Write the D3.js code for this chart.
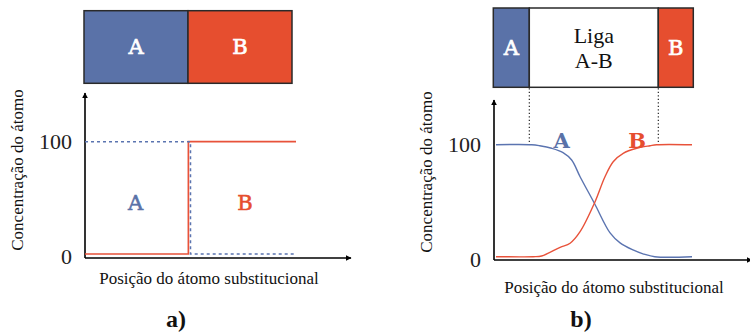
<!DOCTYPE html>
<html>
<head>
<meta charset="utf-8">
<script src="https://cdn.jsdelivr.net/npm/d3@7"></script>
<style>
  html, body { margin: 0; padding: 0; background: #fff; }
  svg { display: block; }
  .serif { font-family: "Liberation Serif", Tinos, "Times New Roman", Times, "DejaVu Serif", "Noto Serif", serif; }
  .slab { font-family: "DejaVu Serif", "Liberation Serif", "Noto Serif", serif; }
</style>
</head>
<body>
<svg id="chart" width="750" height="334"></svg>
<script>
// ---------------- DATA ----------------
// Panel a) – abrupt interface
const boxA_names = ["A", "B"];
const boxA_starts = [0, 50];
const boxA_ends = [50, 100];
const posA_red = [0, 49, 49, 100];
const concA_red = [0, 0, 100, 100];
const posA_blue = [0, 50, 50, 100];
const concA_blue = [100, 100, 0, 0];

// Panel b) – diffusion couple
const boxB_names = ["A", "Liga|A-B", "B"];
const boxB_starts = [0, 18, 82.5];
const boxB_ends = [18, 82.5, 100];
const posB_blue = [0, 18.2, 22.3, 28.4, 34.2, 38.6, 42.9, 50.2, 58.2, 63.3, 69.9, 75, 81, 100];
const concB_blue = [100, 100, 99.1, 96.8, 92.9, 86.3, 71.4, 47.7, 21.2, 12.3, 6, 2.5, 0, 0];
const posB_red = [0, 18.9, 23.3, 32.7, 37.8, 42.9, 50.2, 55.6, 59.8, 64.9, 71.8, 78.6, 82, 100];
const concB_red = [0, 0, 0.6, 8.4, 12, 22.3, 47.7, 71.4, 84.8, 92.3, 96.8, 99.1, 100, 100];

const yTicks = [0, 100];
const yLabel = "Concentração do átomo";
const xLabel = "Posição do átomo substitucional";
const captions = ["a)", "b)"];

// ---------------- STYLE ----------------
const BLUE = "#5a72a8";
const RED = "#e64e2f";
const LBLUE = "#5b74b0";
const LRED = "#e8523a";

const svg = d3.select("#chart");

const defs = svg.append("defs");
defs.append("marker")
  .attr("id", "arrow")
  .attr("viewBox", "0 0 10 10")
  .attr("refX", 9).attr("refY", 5)
  .attr("markerWidth", 6).attr("markerHeight", 6)
  .attr("markerUnits", "userSpaceOnUse")
  .attr("orient", "auto")
  .append("path").attr("d", "M0,0 L10,5 L0,10 Z").attr("fill", "#000");

function zip(xs, ys) { return xs.map((x, i) => ({ x, y: ys[i] })); }

function panel(cfg) {
  const g = svg.append("g");
  const x = d3.scaleLinear().domain([0, 100]).range(cfg.xRange);
  const y = d3.scaleLinear().domain([0, 100]).range(cfg.yRange);
  const bx = d3.scaleLinear().domain([0, 100]).range(cfg.boxRange);

  const secs = cfg.names.map((n, i) => ({ n, s: cfg.starts[i], e: cfg.ends[i], fill: cfg.fills[i], txt: cfg.txt[i] }));
  g.selectAll("rect.sec").data(secs).join("rect")
    .attr("class", "sec")
    .attr("x", d => bx(d.s)).attr("y", cfg.boxY[0])
    .attr("width", d => bx(d.e) - bx(d.s))
    .attr("height", cfg.boxY[1] - cfg.boxY[0])
    .attr("fill", d => d.fill)
    .attr("stroke", "#2a2a2a").attr("stroke-width", 1.5);
  secs.forEach(d => {
    const lines = d.n.split("|");
    const cx = (bx(d.s) + bx(d.e)) / 2;
    const cy = (cfg.boxY[0] + cfg.boxY[1]) / 2;
    const lh = 25;
    const multi = lines.length > 1;
    lines.forEach((t, k) => {
      g.append("text")
        .attr("class", multi ? "serif" : "slab")
        .attr("x", cx)
        .attr("y", cy + (k - (lines.length - 1) / 2) * lh)
        .attr("dy", "0.35em")
        .attr("text-anchor", "middle")
        .style("font-size", multi ? "22px" : "21px")
        .attr("fill", d.txt)
        .attr("stroke", multi ? null : d.txt)
        .attr("stroke-width", multi ? null : 0.7)
        .text(t);
    });
  });

  if (cfg.guides) {
    cfg.guides.forEach(v => {
      g.append("line")
        .attr("x1", bx(v)).attr("x2", bx(v))
        .attr("y1", cfg.boxY[1] + 1).attr("y2", y(101))
        .attr("stroke", "#111").attr("stroke-width", 1.1)
        .attr("stroke-dasharray", "1.2,2.3");
    });
  }

  const x0 = cfg.axisX, yb = cfg.axisY;
  g.append("line").attr("x1", x0).attr("y1", yb).attr("x2", x0).attr("y2", cfg.yTop)
    .attr("stroke", "#000").attr("stroke-width", 1.6).attr("marker-end", "url(#arrow)");
  g.append("line").attr("x1", x0).attr("y1", yb).attr("x2", cfg.xEnd).attr("y2", yb)
    .attr("stroke", "#000").attr("stroke-width", 1.6).attr("marker-end", "url(#arrow)");

  const ax = d3.axisLeft(y).tickValues(yTicks).tickSize(0).tickPadding(0).tickFormat(d3.format("d"));
  const axg = g.append("g").attr("transform", `translate(${x0 - 13},0)`).call(ax);
  axg.attr("font-family", null).attr("font-size", null);
  axg.select(".domain").remove();
  axg.selectAll("text")
    .attr("class", "serif").style("font-size", "22px").attr("fill", "#222");
  axg.selectAll(".tick").filter(d => d === 0).select("text").attr("dy", "0.45em");

  const line = d3.line().x(d => x(d.x)).y(d => y(d.y)).curve(cfg.curve);
  cfg.series.forEach(s => {
    g.append("path").datum(zip(s.xs, s.ys))
      .attr("d", line).attr("fill", "none")
      .attr("stroke", s.color).attr("stroke-width", s.w || 1.5)
      .attr("stroke-dasharray", s.dash || null);
  });

  cfg.labels.forEach(l => {
    g.append("text").attr("class", "slab")
      .attr("x", x(l.x)).attr("y", y(l.y)).attr("dy", "0.35em")
      .attr("text-anchor", "middle")
      .style("font-size", (l.size || 21) + "px")
      .style("font-weight", l.bold ? "bold" : "normal")
      .attr("stroke", l.bold ? null : l.color)
      .attr("stroke-width", l.bold ? null : 0.6)
      .attr("fill", l.color).text(l.t);
  });

  g.append("text").attr("class", "serif")
    .attr("transform", `translate(${cfg.yLabelPos[0]},${cfg.yLabelPos[1]}) rotate(-90)`)
    .attr("text-anchor", "middle").attr("dy", "0.35em")
    .style("font-size", "17px").attr("fill", "#111")
    .text(yLabel);
  g.append("text").attr("class", "serif")
    .attr("x", cfg.xLabelPos[0]).attr("y", cfg.xLabelPos[1])
    .attr("text-anchor", "middle")
    .style("font-size", "17px").attr("fill", "#111")
    .text(xLabel);
  g.append("text").attr("class", "serif")
    .attr("x", cfg.capPos[0]).attr("y", cfg.capPos[1])
    .attr("text-anchor", "middle")
    .style("font-size", "24px").style("font-weight", "bold").attr("fill", "#111")
    .text(cfg.caption);
}

panel({
  xRange: [85, 296], yRange: [254, 141.7], boxRange: [84, 292], boxY: [10.7, 83.3],
  names: boxA_names, starts: boxA_starts, ends: boxA_ends,
  fills: [BLUE, RED], txt: ["#fff", "#fff"],
  axisX: 85, axisY: 258, yTop: 93, xEnd: 351,
  curve: d3.curveLinear,
  series: [
    { xs: posA_red, ys: concA_red, color: LRED, w: 1.7 },
    { xs: posA_blue, ys: concA_blue, color: LBLUE, w: 1.5, dash: "3,3" }
  ],
  labels: [
    { t: "A", x: 24, y: 46, color: BLUE },
    { t: "B", x: 75.8, y: 46, color: RED }
  ],
  yLabelPos: [17, 170], xLabelPos: [209, 284], capPos: [176, 327], caption: captions[0]
});

panel({
  xRange: [496, 692], yRange: [256.7, 144.7], boxRange: [493.3, 693.3], boxY: [8, 87.3],
  names: boxB_names, starts: boxB_starts, ends: boxB_ends,
  fills: [BLUE, "#fff", RED], txt: ["#fff", "#111", "#fff"],
  guides: [boxB_starts[1], boxB_starts[2]],
  axisX: 494, axisY: 260, yTop: 100, xEnd: 752,
  curve: d3.curveCatmullRom.alpha(0.5),
  series: [
    { xs: posB_blue, ys: concB_blue, color: LBLUE, w: 1.4 },
    { xs: posB_red, ys: concB_red, color: LRED, w: 1.4 }
  ],
  labels: [
    { t: "A", x: 33.5, y: 104, color: BLUE, bold: true },
    { t: "B", x: 72, y: 104, color: RED, bold: true }
  ],
  yLabelPos: [426, 172], xLabelPos: [614, 293], capPos: [581, 327], caption: captions[1]
});
</script>
</body>
</html>
